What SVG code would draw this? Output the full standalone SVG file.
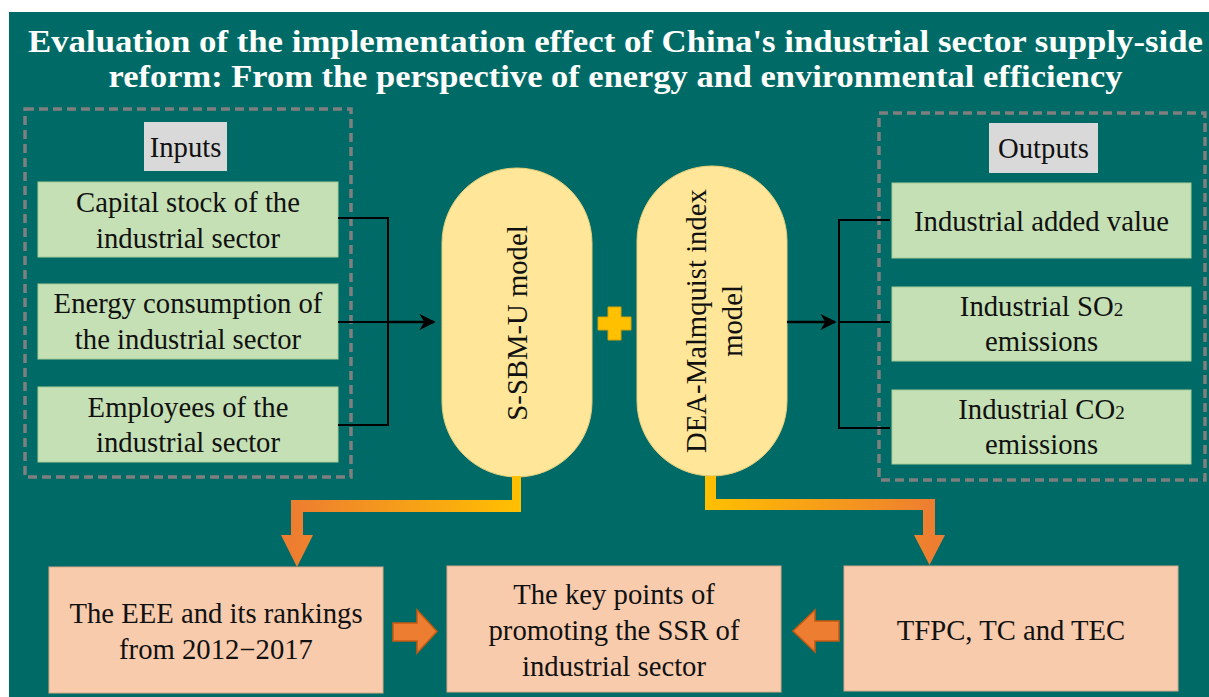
<svg xmlns="http://www.w3.org/2000/svg" width="1209" height="697" viewBox="0 0 1209 697">
<style>
.t{font-family:"Liberation Serif","Times New Roman",serif;fill:#111;font-size:28.7px;text-anchor:middle}
.title{font-family:"Liberation Serif","Times New Roman",serif;fill:#fff;font-size:32px;font-weight:bold;text-anchor:middle}
.green{fill:#C5E0B4;stroke:#A9CC96;stroke-width:1}
.label{fill:#D9D9D9}
.pill{fill:#FFE699;stroke:#E8CF7A;stroke-width:1}
.peach{fill:#F8CBAD;stroke:#D9A88A;stroke-width:1}
.dash{fill:none;stroke:#7F7F7F;stroke-width:3.5;stroke-dasharray:9 5}
.line{fill:none;stroke:#000;stroke-width:2}
.arr{fill:none;stroke:#000;stroke-width:2.5}
.block{fill:#ED7D31;stroke:#C55A11;stroke-width:1.5}
</style>
<defs>
<marker id="ah" viewBox="0 0 10 10" refX="9" refY="5" markerWidth="6.5" markerHeight="6.5" orient="auto" markerUnits="strokeWidth">
<path d="M0,0 L10,5 L0,10 L3,5 Z" fill="#000"/>
</marker>
<linearGradient id="gl" gradientUnits="userSpaceOnUse" x1="521" y1="0" x2="291" y2="0">
<stop offset="0" stop-color="#FFC000"/><stop offset="1" stop-color="#ED7D31"/>
</linearGradient>
<linearGradient id="gr" gradientUnits="userSpaceOnUse" x1="705" y1="0" x2="935" y2="0">
<stop offset="0" stop-color="#FFC000"/><stop offset="1" stop-color="#ED7D31"/>
</linearGradient>
</defs>
<rect x="0" y="0" width="1209" height="697" fill="#fff"/>
<rect x="9" y="12" width="1200" height="685" fill="#006B66"/>

<g id="title">
<text class="title" x="615.5" y="52" textLength="1175" lengthAdjust="spacingAndGlyphs">Evaluation of the implementation effect of China's industrial sector supply-side</text>
<text class="title" x="615.5" y="87" textLength="1014" lengthAdjust="spacingAndGlyphs">reform: From the perspective of energy and environmental efficiency</text>
</g>

<g id="inputs-group">
<rect class="dash" x="25" y="109" width="326" height="368"/>
<rect class="label" x="144" y="122" width="83" height="49"/>
<text class="t" x="185.5" y="157">Inputs</text>
</g>
<g id="in1"><rect class="green" x="38" y="182" width="300" height="75"/>
<text class="t" x="188" y="212">Capital stock of the</text><text class="t" x="188" y="248">industrial sector</text></g>
<g id="in2"><rect class="green" x="38" y="284" width="300" height="75"/>
<text class="t" x="188" y="313">Energy consumption of</text><text class="t" x="188" y="349">the industrial sector</text></g>
<g id="in3"><rect class="green" x="38" y="387" width="300" height="75"/>
<text class="t" x="188" y="417">Employees of the</text><text class="t" x="188" y="452">industrial sector</text></g>

<g id="outputs-group">
<rect class="dash" x="879" y="113" width="326" height="367"/>
<rect class="label" x="989" y="123" width="109" height="50"/>
<text class="t" x="1043.5" y="158">Outputs</text>
</g>
<g id="out1"><rect class="green" x="892" y="183" width="299" height="75"/>
<text class="t" x="1041.5" y="231">Industrial added value</text></g>
<g id="out2"><rect class="green" x="892" y="287" width="299" height="74"/>
<text class="t" x="1041.5" y="316">Industrial SO<tspan font-size="19">2</tspan></text><text class="t" x="1041.5" y="351">emissions</text></g>
<g id="out3"><rect class="green" x="892" y="390" width="299" height="74"/>
<text class="t" x="1041.5" y="419">Industrial CO<tspan font-size="19">2</tspan></text><text class="t" x="1041.5" y="454">emissions</text></g>

<g id="ssbm">
<rect class="pill" x="442" y="168" width="150" height="309" rx="75" ry="75"/>
<text class="t" transform="translate(527,323) rotate(-90)" x="0" y="0">S-SBM-U model</text>
</g>
<g id="plus">
<path d="M608,307 H621 V317 H631 V330 H621 V340 H608 V330 H598 V317 H608 Z" fill="#FFC000" stroke="#D9A300" stroke-width="1"/>
</g>
<g id="dea">
<rect class="pill" x="637" y="166" width="150" height="310" rx="75" ry="75"/>
<text class="t" transform="translate(706,321) rotate(-90)" x="0" y="0">DEA-Malmquist index</text>
<text class="t" transform="translate(742,321) rotate(-90)" x="0" y="0">model</text>
</g>

<g id="res1"><rect class="peach" x="49" y="567" width="334" height="126"/>
<text class="t" x="216" y="623">The EEE and its rankings</text><text class="t" x="216" y="659">from 2012−2017</text></g>
<g id="res2"><rect class="peach" x="447" y="566" width="334" height="126"/>
<text class="t" x="614" y="604">The key points of</text><text class="t" x="614" y="640">promoting the SSR of</text><text class="t" x="614" y="676">industrial sector</text></g>
<g id="res3"><rect class="peach" x="844" y="566" width="334" height="125"/>
<text class="t" x="1011" y="640">TFPC, TC and TEC</text></g>

<g id="connectors">
<path class="line" d="M338,218 H388 V425 H338 M338,322 H388"/>
<path class="arr" d="M388,322 H434" marker-end="url(#ah)"/>
<path class="arr" d="M787,322 H835" marker-end="url(#ah)"/>
<path class="line" d="M890,220 H839 V428 H890 M839,322 H890"/>
<path d="M512,476 H521 V512 H303 V535 H313 L297,567 L281,535 H291 V500 H512 Z" fill="url(#gl)"/>
<path d="M705,476 H716 V499 H935 V535 H945 L929.5,565 L914,535 H923 V510 H705 Z" fill="url(#gr)"/>
<path class="block" d="M393,623 H417 V610 L437,631.5 L417,653 V641 H393 Z"/>
<path class="block" d="M839,621 H815 V610 L793,631 L815,652 V641 H839 Z"/>
</g>
</svg>
